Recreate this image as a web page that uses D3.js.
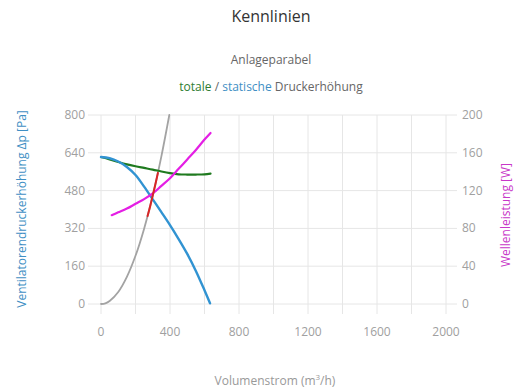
<!DOCTYPE html>
<html>
<head>
<meta charset="utf-8">
<script src="https://cdn.jsdelivr.net/npm/d3@7"></script>
<style>
  body { margin: 0; background: #fff; }
  svg { font-family: "Open Sans", "Noto Sans", sans-serif; }
</style>
</head>
<body>
<svg class="chart" width="530" height="390"></svg>
<script>
// flow values (m3/h) and readings
var staticQ = [0, 50, 100, 150, 200, 250, 300, 350, 400, 450, 500, 550, 600, 632];
var staticP = [622, 617, 603, 580, 546, 497, 443, 389, 334, 275, 212, 140, 58, 3];

var totalQ = [0, 50, 100, 150, 200, 250, 300, 350, 400, 450, 500, 550, 600, 635];
var totalP = [622, 612, 601, 591, 583, 576, 569, 561, 554, 549, 548, 548, 549, 552];

var powerQ = [62, 100, 150, 200, 250, 300, 350, 400, 450, 500, 550, 600, 635];
var powerW = [94, 97, 101, 106, 111, 117, 125, 133, 143, 153, 163, 174, 181];

var parabelQ = [0, 25, 50, 100, 150, 200, 250, 300, 350, 396];
var parabelP = [0, 3, 13, 51, 115, 204, 319, 459, 625, 800];

var workQ = [270, 285, 300, 315, 330];
var workP = [372, 414, 459, 506, 555];

var xTicks = [0, 400, 800, 1200, 1600, 2000];
var xGrid = [0, 200, 400, 600, 800, 1000, 1200, 1400, 1600, 1800, 2000];
var leftTicks = [0, 160, 320, 480, 640, 800];
var rightTicks = [0, 40, 80, 120, 160, 200];

var svg = d3.select('.chart');

var x = d3.scaleLinear().domain([0, 2000]).range([101, 446]);
var yL = d3.scaleLinear().domain([0, 800]).range([304, 115]);
var yR = d3.scaleLinear().domain([0, 200]).range([304, 115]);

// grid
svg.append('g').selectAll('line').data(xGrid).enter().append('line')
  .attr('x1', function(d) { return x(d); })
  .attr('x2', function(d) { return x(d); })
  .attr('y1', yL(800))
  .attr('y2', yL(0) + 10)
  .attr('stroke', '#e6e6e6');

svg.append('g').selectAll('line').data(leftTicks).enter().append('line')
  .attr('x1', 88)
  .attr('x2', 457)
  .attr('y1', function(d) { return yL(d); })
  .attr('y2', function(d) { return yL(d); })
  .attr('stroke', '#e6e6e6');

// tick labels
svg.append('g').selectAll('text').data(xTicks).enter().append('text')
  .attr('x', function(d) { return x(d); })
  .attr('y', 336)
  .attr('text-anchor', 'middle')
  .attr('font-size', 12)
  .attr('fill', '#a0a0a0')
  .text(function(d) { return d; });

svg.append('g').selectAll('text').data(leftTicks).enter().append('text')
  .attr('x', 85)
  .attr('y', function(d) { return yL(d) + 4; })
  .attr('text-anchor', 'end')
  .attr('font-size', 12)
  .attr('fill', '#a0a0a0')
  .text(function(d) { return d; });

svg.append('g').selectAll('text').data(rightTicks).enter().append('text')
  .attr('x', 462)
  .attr('y', function(d) { return yR(d) + 4; })
  .attr('text-anchor', 'start')
  .attr('font-size', 12)
  .attr('fill', '#a0a0a0')
  .text(function(d) { return d; });

// curves
function zip(qs, vs) {
  return qs.map(function(q, i) { return [q, vs[i]]; });
}
var smooth = d3.curveCatmullRom.alpha(0.5);
var lineL = d3.line().x(function(d) { return x(d[0]); }).y(function(d) { return yL(d[1]); }).curve(smooth);
var lineR = d3.line().x(function(d) { return x(d[0]); }).y(function(d) { return yR(d[1]); }).curve(smooth);

var curves = [
  {data: zip(parabelQ, parabelP), line: lineL, color: '#a3a3a3', w: 1.8},
  {data: zip(totalQ, totalP), line: lineL, color: '#1f7a1f', w: 2.2},
  {data: zip(staticQ, staticP), line: lineL, color: '#3193d2', w: 2.4},
  {data: zip(powerQ, powerW), line: lineR, color: '#e41fe4', w: 2.2},
  {data: zip(workQ, workP), line: lineL, color: '#d92626', w: 2}
];
svg.append('g').selectAll('path').data(curves).enter().append('path')
  .attr('d', function(d) { return d.line(d.data); })
  .attr('fill', 'none')
  .attr('stroke', function(d) { return d.color; })
  .attr('stroke-width', function(d) { return d.w; })
  .attr('stroke-linecap', 'round');

// titles
svg.append('text')
  .attr('x', 271).attr('y', 22)
  .attr('text-anchor', 'middle')
  .attr('font-size', 16)
  .attr('fill', '#333')
  .text('Kennlinien');

svg.append('text')
  .attr('x', 271).attr('y', 64)
  .attr('text-anchor', 'middle')
  .attr('font-size', 12)
  .attr('fill', '#666')
  .text('Anlageparabel');

var sub = svg.append('text')
  .attr('x', 271).attr('y', 91)
  .attr('text-anchor', 'middle')
  .attr('font-size', 12)
  .attr('fill', '#666');
sub.append('tspan').attr('fill', '#2e7d32').text('totale');
sub.append('tspan').text(' / ');
sub.append('tspan').attr('fill', '#3f8fc4').text('statische');
sub.append('tspan').text(' Druckerhöhung');

svg.append('text')
  .attr('x', 275).attr('y', 385)
  .attr('text-anchor', 'middle')
  .attr('font-size', 12)
  .attr('fill', '#999')
  .html('Volumenstrom (m<tspan dy="-5" font-size="8">3</tspan><tspan dy="5">/h)</tspan>');

svg.append('text')
  .attr('transform', 'translate(26,209) rotate(-90)')
  .attr('text-anchor', 'middle')
  .attr('font-size', 12)
  .attr('fill', '#3f8fc4')
  .text('Ventilatorendruckerhöhung Δp [Pa]');

svg.append('text')
  .attr('transform', 'translate(510,215) rotate(-90)')
  .attr('text-anchor', 'middle')
  .attr('font-size', 12)
  .attr('fill', '#c837c8')
  .text('Wellenleistung [W]');
</script>
</body>
</html>
